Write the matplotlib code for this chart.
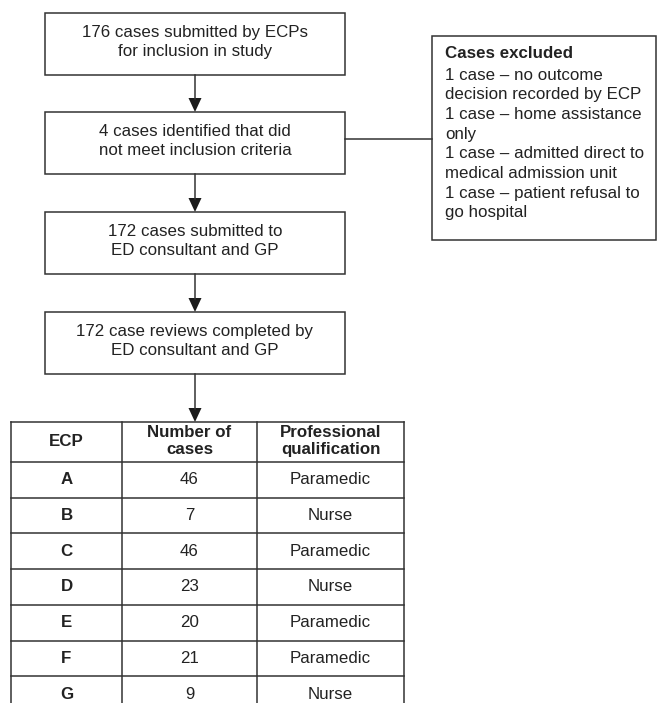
import matplotlib.pyplot as plt
from matplotlib.patches import Rectangle, Polygon

plt.rcParams['font.family'] = ['Liberation Sans', 'DejaVu Sans']

# ---------------- DATA ----------------
flow_steps = [
    "176 cases submitted by ECPs\nfor inclusion in study",
    "4 cases identified that did\nnot meet inclusion criteria",
    "172 cases submitted to\nED consultant and GP",
    "172 case reviews completed by\nED consultant and GP",
]

excluded_title = "Cases excluded"
excluded_lines = [
    "1 case \u2013 no outcome",
    "decision recorded by ECP",
    "1 case \u2013 home assistance",
    "only",
    "1 case \u2013 admitted direct to",
    "medical admission unit",
    "1 case \u2013 patient refusal to",
    "go hospital",
]

table_header = ["ECP", "Number of\ncases", "Professional\nqualification"]
ecp = ["A", "B", "C", "D", "E", "F", "G"]
n_cases = [46, 7, 46, 23, 20, 21, 9]
qualification = ["Paramedic", "Nurse", "Paramedic", "Nurse",
                 "Paramedic", "Paramedic", "Nurse"]

# ---------------- LAYOUT (pixels) ----------------
W, H = 657, 703
LC = "#333333"
TC = "#222222"
FS = 12.2

fig = plt.figure(figsize=(W / 100, H / 100), dpi=100)
ax = fig.add_axes([0, 0, 1, 1])
ax.set_xlim(0, W)
ax.set_ylim(H, 0)
ax.axis("off")

box_x0, box_x1 = 45, 345
box_tops = [13, 112, 212, 312]
box_h = 62
cx = (box_x0 + box_x1) / 2


def arrow_down(x, y0, y1):
    ax.plot([x, x], [y0, y1 - 13], color=LC, lw=1.1)
    ax.add_patch(Polygon([[x - 6.5, y1 - 14], [x + 6.5, y1 - 14], [x, y1]],
                         closed=True, color="#1a1a1a", lw=0))


# ---- flow boxes ----
for i, txt in enumerate(flow_steps):
    top = box_tops[i]
    ax.add_patch(Rectangle((box_x0, top), box_x1 - box_x0, box_h,
                           fill=False, ec=LC, lw=1.1))
    ax.text(cx, top + box_h / 2 - 2, txt, ha="center", va="center",
            fontsize=FS, color=TC, linespacing=1.28)
    if i < len(flow_steps) - 1:
        arrow_down(cx, top + box_h, box_tops[i + 1])

# ---- excluded box ----
ex_x0, ex_x1, ex_y0, ex_y1 = 432, 656, 36, 240
ax.add_patch(Rectangle((ex_x0, ex_y0), ex_x1 - ex_x0, ex_y1 - ex_y0,
                       fill=False, ec=LC, lw=1.1))
ax.plot([box_x1, ex_x0], [139, 139], color=LC, lw=1.1)
ax.text(445, 54, excluded_title, ha="left", va="center",
        fontsize=FS, fontweight="bold", color=TC)
for j, line in enumerate(excluded_lines):
    ax.text(445, 75 + j * 19.7, line, ha="left", va="center",
            fontsize=FS, color=TC)

# ---- table ----
col_x = [11, 122, 257, 404]
tab_top = 422
head_h = 40
row_h = 35.7

arrow_down(cx, box_tops[-1] + box_h, tab_top)

row_lines = [tab_top, tab_top + head_h] + \
    [tab_top + head_h + (k + 1) * row_h for k in range(len(ecp))]
for y in row_lines[:-1]:
    ax.plot([col_x[0], col_x[-1]], [y, y], color=LC, lw=1.1)
for x in col_x:
    ax.plot([x, x], [tab_top, H + 5], color=LC, lw=1.1)

for c, htxt in enumerate(table_header):
    ax.text((col_x[c] + col_x[c + 1]) / 2, tab_top + head_h / 2 - 1, htxt,
            ha="center", va="center", fontsize=FS, fontweight="bold",
            color=TC, linespacing=1.2)

for r in range(len(ecp)):
    yc = tab_top + head_h + (r + 0.5) * row_h
    vals = [ecp[r], str(n_cases[r]), qualification[r]]
    for c, v in enumerate(vals):
        ax.text((col_x[c] + col_x[c + 1]) / 2, yc, v, ha="center",
                va="center", fontsize=FS, color=TC,
                fontweight="bold" if c == 0 else "normal")

fig.savefig("out.png", dpi=100)
